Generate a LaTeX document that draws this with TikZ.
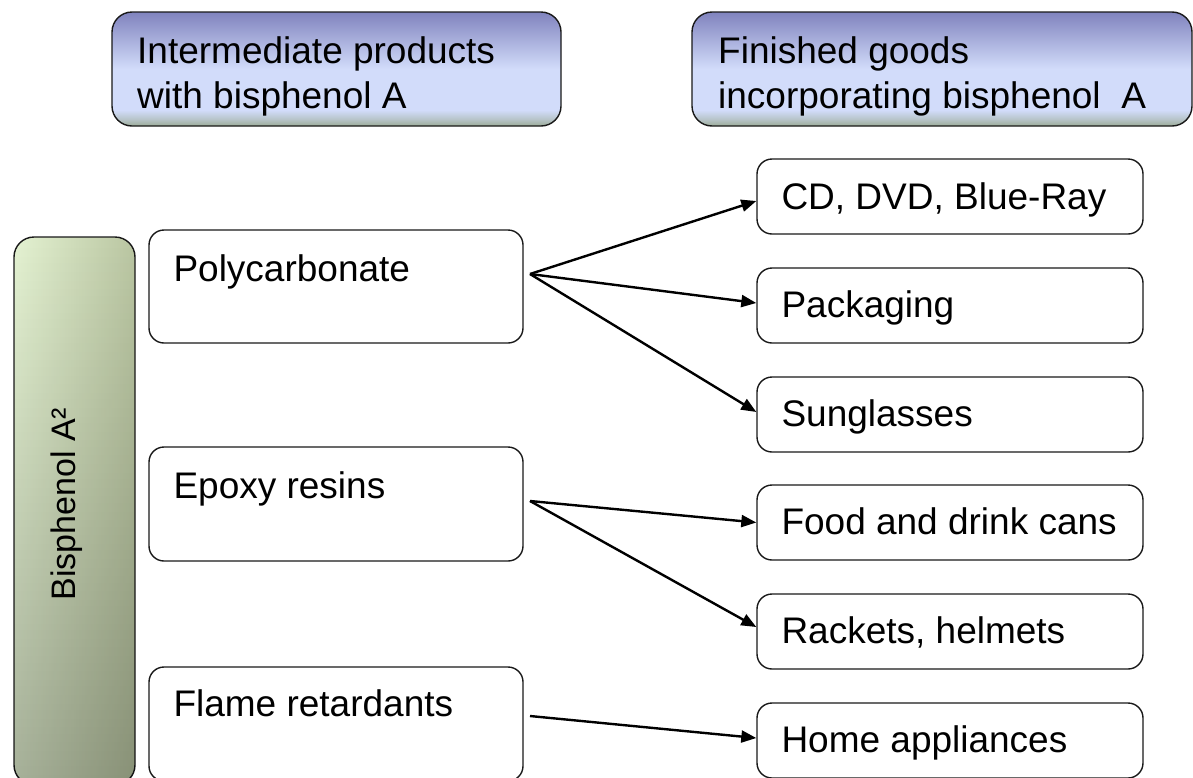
\documentclass[tikz,border=0pt]{standalone}
\usepackage{fontspec}
\setmainfont{Liberation Sans}
\usetikzlibrary{arrows.meta,calc,fadings}
\definecolor{htop}{RGB}{128,131,190}
\definecolor{hlight}{RGB}{210,220,250}
\definecolor{hbot}{RGB}{156,172,152}
\definecolor{gtl}{RGB}{228,242,210}
\definecolor{gtr}{RGB}{186,198,162}
\pgfdeclareverticalshading{hdrshade}{100bp}{color(0bp)=(hbot); color(25bp)=(hbot); color(28bp)=(hbot!50!hlight); color(32bp)=(hlight); color(50bp)=(hlight); color(75bp)=(htop); color(100bp)=(htop)}
\tikzset{
  basefont/.style={font=\fontsize{37pt}{45pt}\selectfont},
  rbox/.style={draw=black!90, line width=1.4pt, rounded corners=15pt, fill=white, inner sep=0pt},
  hbox/.style={draw=black!90, line width=1.4pt, rounded corners=20pt, shade, shading=hdrshade, inner sep=0pt},
  gbox/.style={draw=black!90, line width=1.4pt, rounded corners=20pt, left color=gtl, right color=gtr, inner sep=0pt},
  lbl/.style={basefont, anchor=base west, inner sep=0pt},
  arr/.style={line width=2.4pt, -{Triangle[length=15pt,width=12pt]}}
}
\begin{document}
\begin{tikzpicture}[x=1pt,y=-1pt]
\useasboundingbox (0,0) rectangle (1193,777);
% headers
\node[hbox, minimum width=449pt, minimum height=114pt] (hdrL) at (336.5,69) {};
\node[hbox, minimum width=500pt, minimum height=114pt] (hdrR) at (942,69) {};
\node[lbl] (hdrL1) at (137,63.5) {Intermediate products};
\node[lbl] (hdrL2) at (137,108.5) {with bisphenol A};
\node[lbl] (hdrR1) at (718,63.5) {Finished goods};
\node[lbl] (hdrR2) at (718,108.5) {incorporating bisphenol\ \ A};
% left vertical box
\node[gbox, minimum width=121pt, minimum height=548pt] (bpa) at (74.5,511) {};
\fill[black, path fading=north, fill opacity=0.27, rounded corners=19pt] ([shift={(0.7,0.7)}]bpa.north west) rectangle ([shift={(-0.7,-0.7)}]bpa.south east);
\node[font=\fontsize{34pt}{40pt}\selectfont, rotate=90, anchor=base, inner sep=0pt] (bpat) at (75,504) {Bisphenol A²};
% intermediate boxes
\node[rbox, minimum width=374pt, minimum height=113pt] (pc) at (336,286.5) {};
\node[rbox, minimum width=374pt, minimum height=114pt] (ep) at (336,504) {};
\node[rbox, minimum width=374pt, minimum height=114pt] (fr) at (336,724) {};
\node[lbl] (pct) at ($(pc.north west)+(25,52)$) {Polycarbonate};
\node[lbl] (ept) at ($(ep.north west)+(25,52)$) {Epoxy resins};
\node[lbl] (frt) at ($(fr.north west)+(25,50)$) {Flame retardants};
% finished goods boxes
\node[rbox, minimum width=386pt, minimum height=75pt] (cd) at (950,196.5) {};
\node[rbox, minimum width=386pt, minimum height=75pt] (pk) at (950,305.5) {};
\node[rbox, minimum width=386pt, minimum height=75pt] (sg) at (950,414.5) {};
\node[rbox, minimum width=386pt, minimum height=75pt] (fd) at (950,522.5) {};
\node[rbox, minimum width=386pt, minimum height=75pt] (rk) at (950,631.5) {};
\node[rbox, minimum width=386pt, minimum height=75pt] (ha) at (950,740.5) {};
\node[lbl] (cdt) at ($(cd.north west)+(25,51)$) {CD, DVD, Blue-Ray};
\node[lbl] (pkt) at ($(pk.north west)+(25,50)$) {Packaging};
\node[lbl] (sgt) at ($(sg.north west)+(25,50)$) {Sunglasses};
\node[lbl] (fdt) at ($(fd.north west)+(25,50)$) {Food and drink cans};
\node[lbl] (rkt) at ($(rk.north west)+(25,50)$) {Rackets, helmets};
\node[lbl] (hat) at ($(ha.north west)+(25,50)$) {Home appliances};
% arrows
\coordinate (pcO) at (530,274);
\coordinate (epO) at (530,501);
\coordinate (frO) at (530,716);
\draw[arr] (pcO) -- ([yshift=-4.5pt]cd.west);
\draw[arr] (pcO) -- ([yshift=2.5pt]pk.west);
\draw[arr] (pcO) -- ([yshift=2.5pt]sg.west);
\draw[arr] (epO) -- (fd.west);
\draw[arr] (epO) -- ([yshift=4.5pt]rk.west);
\draw[arr] (frO) -- ([yshift=2.5pt]ha.west);
\end{tikzpicture}
\end{document}
